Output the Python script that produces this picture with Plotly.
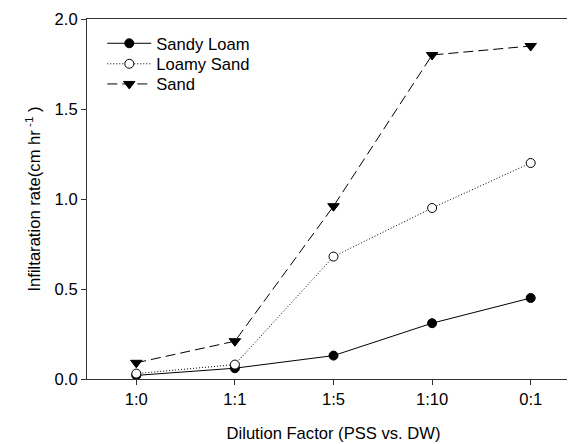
import plotly.graph_objects as go

categories = ["1:0", "1:1", "1:5", "1:10", "0:1"]
sandy_loam = [0.02, 0.06, 0.13, 0.31, 0.45]
loamy_sand = [0.03, 0.08, 0.68, 0.95, 1.20]
sand = [0.09, 0.21, 0.96, 1.80, 1.85]

FONT = "Liberation Sans, Arial, sans-serif"
FS = 16.6

fig = go.Figure()
fig.add_trace(go.Scatter(
    x=categories, y=sandy_loam, name="Sandy Loam", mode="lines+markers",
    line=dict(color="black", width=1),
    marker=dict(symbol="circle", size=9, color="black", line=dict(color="black", width=1)),
    legend="legend",
))
fig.add_trace(go.Scatter(
    x=categories, y=loamy_sand, name="Loamy Sand", mode="lines+markers",
    line=dict(color="black", width=1, dash="1px,2px"),
    marker=dict(symbol="circle", size=9, color="white", line=dict(color="black", width=1)),
    legend="legend2",
))
fig.add_trace(go.Scatter(
    x=categories, y=sand, name="Sand", mode="lines+markers",
    line=dict(color="black", width=1, dash="10px,5px"),
    marker=dict(symbol="triangle-down", size=10, color="black", line=dict(color="black", width=1)),
    legend="legend3",
))

leg_common = dict(x=0.031, xanchor="left", yanchor="middle",
                  bgcolor="rgba(0,0,0,0)", borderwidth=0,
                  font=dict(size=FS, family=FONT, color="black"), itemwidth=44)

fig.update_layout(
    width=575, height=444,
    margin=dict(l=79, r=3, t=11, b=73, autoexpand=False),
    paper_bgcolor="white", plot_bgcolor="white",
    font=dict(family=FONT, size=FS, color="black"),
    showlegend=True,
    legend=dict(y=0.932, **leg_common),
    legend2=dict(y=0.875, **leg_common),
    legend3=dict(y=0.819, **leg_common),
    xaxis=dict(
        type="category", range=[-0.5, 4.5], automargin=False,
        showline=True, linecolor="#333", linewidth=1, mirror=True,
        ticks="outside", ticklen=5, tickcolor="#333",
        showgrid=False, zeroline=False,
        title=dict(text="Dilution Factor (PSS vs. DW)", font=dict(size=FS), standoff=19),
    ),
    yaxis=dict(
        range=[0, 2.0], dtick=0.5, tickformat=".1f", automargin=False,
        showline=True, linecolor="#333", linewidth=1, mirror=False,
        ticks="outside", ticklen=5, tickcolor="#333",
        showgrid=False, zeroline=False,
        title=dict(text="Infiltaration rate(cm hr<sup> -1</sup> )", font=dict(size=FS), standoff=9),
    ),
)

fig.write_html("out.html")
